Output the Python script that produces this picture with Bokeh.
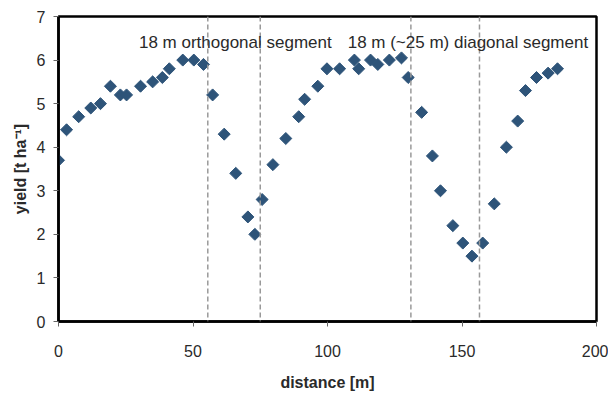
import math
from bokeh.plotting import figure
from bokeh.models import Range1d, FixedTicker, Span, Label, ColumnDataSource
from bokeh.embed import file_html
from bokeh.resources import INLINE

distance = [0, 3, 7.5, 12, 15.6, 19.3, 23, 25.3, 30.5, 35, 38.6, 41.2, 46.2, 50.3, 53.9,
            57.3, 61.6, 65.9, 70.4, 73, 75.7, 79.7, 84.5, 89.3, 91.5, 96.4, 99.8, 104.5,
            110, 111.6, 116, 118.7, 123, 127.5, 130, 135, 139, 142, 146.6, 150.3, 153.7,
            157.7, 162, 166.5, 170.7, 173.6, 177.7, 182, 185.5]
yield_t = [3.7, 4.4, 4.7, 4.9, 5.0, 5.4, 5.2, 5.2, 5.4, 5.5, 5.6, 5.8, 6.0, 6.0, 5.9,
           5.2, 4.3, 3.4, 2.4, 2.0, 2.8, 3.6, 4.2, 4.7, 5.1, 5.4, 5.8, 5.8,
           6.0, 5.8, 6.0, 5.9, 6.0, 6.05, 5.6, 4.8, 3.8, 3.0, 2.2, 1.8, 1.5,
           1.8, 2.7, 4.0, 4.6, 5.3, 5.6, 5.7, 5.8]
segment_bounds = [55.5, 75, 131, 156.5]
segment_labels = ["18 m orthogonal segment", "18 m (~25 m) diagonal segment"]
label_x = [29.9, 107.5]
label_y = [6.41, 6.41]
x_ticks = [0, 50, 100, 150, 200]
y_ticks = [0, 1, 2, 3, 4, 5, 6, 7]

FONT = "Liberation Sans"
TXT = "#2a2a2a"

p = figure(width=608, height=393, output_backend="svg", toolbar_location=None,
           x_range=Range1d(0, 200), y_range=Range1d(0, 7),
           min_border_left=58, min_border_right=12, min_border_top=16, min_border_bottom=68)
p.background_fill_color = "white"
p.border_fill_color = "white"
p.outline_line_color = "black"
p.outline_line_width = 2.5
p.xgrid.grid_line_color = None
p.ygrid.grid_line_color = None

for ax in (p.xaxis[0], p.yaxis[0]):
    ax.axis_line_color = "black"
    ax.axis_line_width = 2.5
    ax.major_tick_in = 0
    ax.major_tick_out = 5
    ax.major_tick_line_color = "#666666"
    ax.minor_tick_line_color = None
    ax.major_label_text_font = FONT
    ax.major_label_text_font_size = "16px"
    ax.major_label_text_color = TXT
    ax.axis_label_text_font = FONT
    ax.axis_label_text_font_size = "16px"
    ax.axis_label_text_font_style = "bold"
    ax.axis_label_text_color = TXT

p.xaxis.ticker = FixedTicker(ticks=x_ticks)
p.yaxis.ticker = FixedTicker(ticks=y_ticks)
p.xaxis.axis_label = "distance [m]"
p.yaxis.axis_label = "yield [t ha\u207b\u00b9]"
p.xaxis.major_label_standoff = 18
p.xaxis.axis_label_standoff = 14
p.yaxis.major_label_standoff = 8
p.yaxis.axis_label_standoff = 5

for b in segment_bounds:
    p.add_layout(Span(location=b, dimension="height", line_color="#999999",
                      line_width=1.5, line_dash="5 3"))

src = ColumnDataSource(dict(x=distance, y=yield_t))
p.scatter("x", "y", source=src, marker="square", size=8.5, angle=math.pi / 4,
          fill_color="#2e5479", line_color="#2e5479")

for t, lx, ly in zip(segment_labels, label_x, label_y):
    p.add_layout(Label(x=lx, y=ly, text=t, text_font=FONT, text_font_size="17px",
                       text_color=TXT, text_baseline="middle", text_align="left"))

open("out.html", "w").write(file_html(p, INLINE))
